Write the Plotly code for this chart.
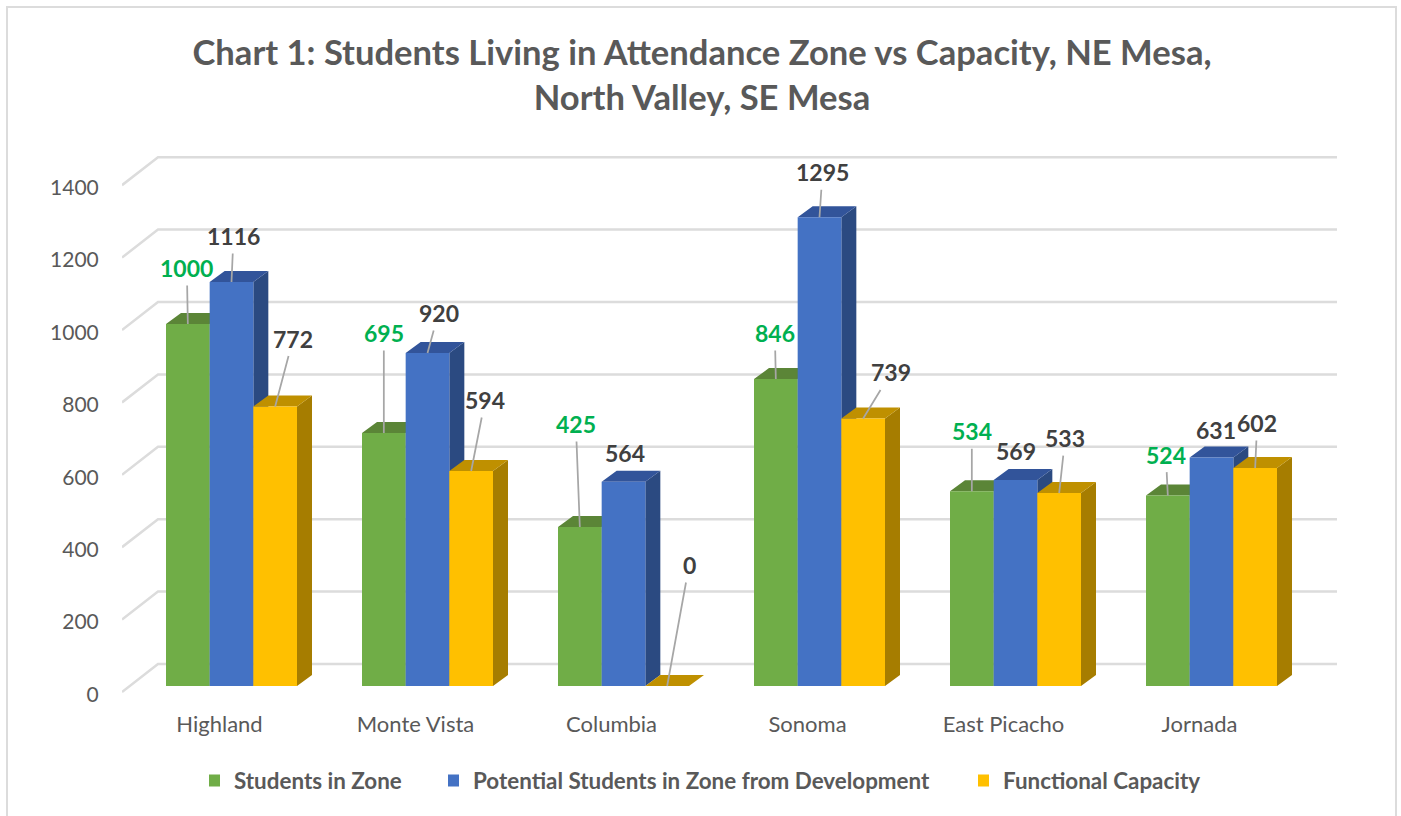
import plotly.graph_objects as go

# ---------- data ----------
categories = ["Highland", "Monte Vista", "Columbia", "Sonoma", "East Picacho", "Jornada"]
students_in_zone = [1000, 699, 439, 848, 538, 526]
potential_students = [1116, 920, 564, 1295, 569, 631]
functional_capacity = [772, 594, 0, 739, 533, 602]
students_labels = ["1000", "695", "425", "846", "534", "524"]
potential_labels = ["1116", "920", "564", "1295", "569", "631"]
capacity_labels = ["772", "594", "0", "739", "533", "602"]
value_ticks = [0, 200, 400, 600, 800, 1000, 1200, 1400]
series_names = ["Students in Zone", "Potential Students in Zone from Development", "Functional Capacity"]

# ---------- styles ----------
FONT = "Lato, Carlito, Calibri, sans-serif"
front = ["#70ad47", "#4472c4", "#ffc000"]
top_face = ["#5b8537", "#32549a", "#bf9000"]
side_face = ["#43682b", "#2b4a81", "#a67d00"]
label_col = ["#00b050", "#404040", "#404040"]
GRID = "#dcdcdc"

W, H = 1401, 816
L, R, T, B = 122, 1345, 140, 700     # plot area in px
X0, UX = 231.5, 196.0                # px of category 0, px per category
Y0, UY = 686.0, 0.362                # px of value 0, px per value unit
px2x = lambda p: (p - X0) / UX
px2y = lambda p: (Y0 - p) / UY
GROUP = 131 / 196
BW = GROUP / 3
DX, DY = 15 / UX, 11 / UY            # depth of a bar
TICK_SHIFT = 8.5 / UY                # tick labels sit on the front of the floor

xs = list(range(len(categories)))
series = [students_in_zone, potential_students, functional_capacity]
labels = [students_labels, potential_labels, capacity_labels]

# label centre offsets from the bar's front-top centre (px)
offsets = [
    [(-1, -56), (0, -100), (-4, -103), (-1, -46), (0, -60), (-2, -41)],
    [(2, -46), (11, -40), (1, -29), (3, -45), (0, -29), (4, -28)],
    [(18, -68), (14, -71), (22, -121), (28, -46), (6, -55), (2, -45)],
]
no_leader = {(1, 2), (1, 4), (1, 5)}

fig = go.Figure()

# gridlines: side wall and back wall
gx, gy = [], []
for v in value_ticks:
    back_y = v + px2y(664)
    front_y = v + px2y(692)
    gx += [px2x(122), px2x(158), px2x(1337), None]
    gy += [front_y, back_y, back_y, None]
fig.add_trace(go.Scatter(x=gx, y=gy, mode="lines", line=dict(color=GRID, width=2.5),
                         hoverinfo="skip", showlegend=False))

# depth faces, computed from the values
for s, vals in enumerate(series):
    sx, sy, tx, ty = [], [], [], []
    for x, v in zip(xs, vals):
        l = x + (s - 1.5) * BW
        r = l + BW
        sx += [r, r + DX, r + DX, r, r, None]
        sy += [0, DY, v + DY, v, 0, None]
        tx += [l, l + DX, r + DX, r, l, None]
        ty += [v, v + DY, v + DY, v, v, None]
    fig.add_trace(go.Scatter(x=sx, y=sy, mode="lines", fill="toself", fillcolor=side_face[s],
                             line=dict(width=0, color=side_face[s]), hoverinfo="skip", showlegend=False))
    fig.add_trace(go.Scatter(x=tx, y=ty, mode="lines", fill="toself", fillcolor=top_face[s],
                             line=dict(width=0, color=top_face[s]), hoverinfo="skip", showlegend=False))

# front faces on an overlaying axis pair, so they cover the depth faces
legend_ids = ["legend", "legend2", "legend3"]
for s, vals in enumerate(series):
    fig.add_trace(go.Bar(x=xs, y=vals, name=series_names[s], marker=dict(color=front[s], line=dict(width=0)),
                         xaxis="x2", yaxis="y2", legend=legend_ids[s]))

# data labels with leader lines
annotations = []
for s, vals in enumerate(series):
    for i, (x, v) in enumerate(zip(xs, vals)):
        dx, dy = offsets[s][i]
        cx = x + (s - 1) * BW
        annotations.append(dict(
            x=cx, y=v, xref="x", yref="y", text=f"<b>{labels[s][i]}</b>",
            font=dict(family=FONT, size=23, color=label_col[s]),
            showarrow=(s, i) not in no_leader, arrowhead=0, arrowwidth=1.75, arrowcolor="#a6a6a6",
            ax=dx, ay=dy, axref="pixel", ayref="pixel", borderpad=3,
            xanchor="center", yanchor="middle",
            **({} if (s, i) not in no_leader else dict(xshift=dx, yshift=-dy)),
        ))

pw, ph = R - L, B - T
legend_px = [209, 448, 978]
legends = {}
for k, lid in enumerate(legend_ids):
    legends[lid] = dict(
        x=(legend_px[k] - L) / pw, y=-(781 - B) / ph, xanchor="left", yanchor="middle",
        orientation="h", indentation=-15, bgcolor="rgba(0,0,0,0)",
        font=dict(family=FONT, size=22.4, color="#595959", weight=700),
    )

fig.update_layout(
    width=W, height=H, margin=dict(l=L, r=W - R, t=T, b=H - B, autoexpand=False),
    paper_bgcolor="white", plot_bgcolor="rgba(0,0,0,0)",
    barmode="group", bargap=1 - GROUP, bargroupgap=0,
    font=dict(family=FONT, color="#595959"),
    title=dict(text="<b>Chart 1: Students Living in Attendance Zone vs Capacity, NE Mesa,<br>North Valley, SE Mesa</b>",
               x=702 / W, xanchor="center", y=1 - 65 / H, yanchor="middle",
               font=dict(family=FONT, size=34.6, color="#595959")),
    xaxis=dict(range=[px2x(L), px2x(R)], tickmode="array", tickvals=[x - 12 / UX for x in xs],
               ticktext=categories, showgrid=False, zeroline=False, showline=False,
               ticks="outside", ticklen=5, tickcolor="rgba(0,0,0,0)",
               tickfont=dict(family=FONT, size=22, color="#595959")),
    yaxis=dict(range=[px2y(B), px2y(T)], tickmode="array", tickvals=[v - TICK_SHIFT for v in value_ticks],
               ticktext=[str(v) for v in value_ticks], showgrid=False, zeroline=False, showline=False,
               ticks="outside", ticklen=18, tickcolor="rgba(0,0,0,0)",
               tickfont=dict(family=FONT, size=21, color="#595959")),
    xaxis2=dict(overlaying="x", matches="x", visible=False),
    yaxis2=dict(overlaying="y", matches="y", visible=False),
    annotations=annotations,
    shapes=[dict(type="rect", xref="paper", yref="paper", layer="below",
                 x0=(7 - L) / pw, x1=(1396 - L) / pw, y0=(B - 830) / ph, y1=(B - 7) / ph,
                 line=dict(color=GRID, width=2), fillcolor="white")],
    **legends,
)

fig.write_html("out.html", config=dict(displayModeBar=False),
               post_script="document.body.style.margin='0';document.body.style.overflow='hidden';")
